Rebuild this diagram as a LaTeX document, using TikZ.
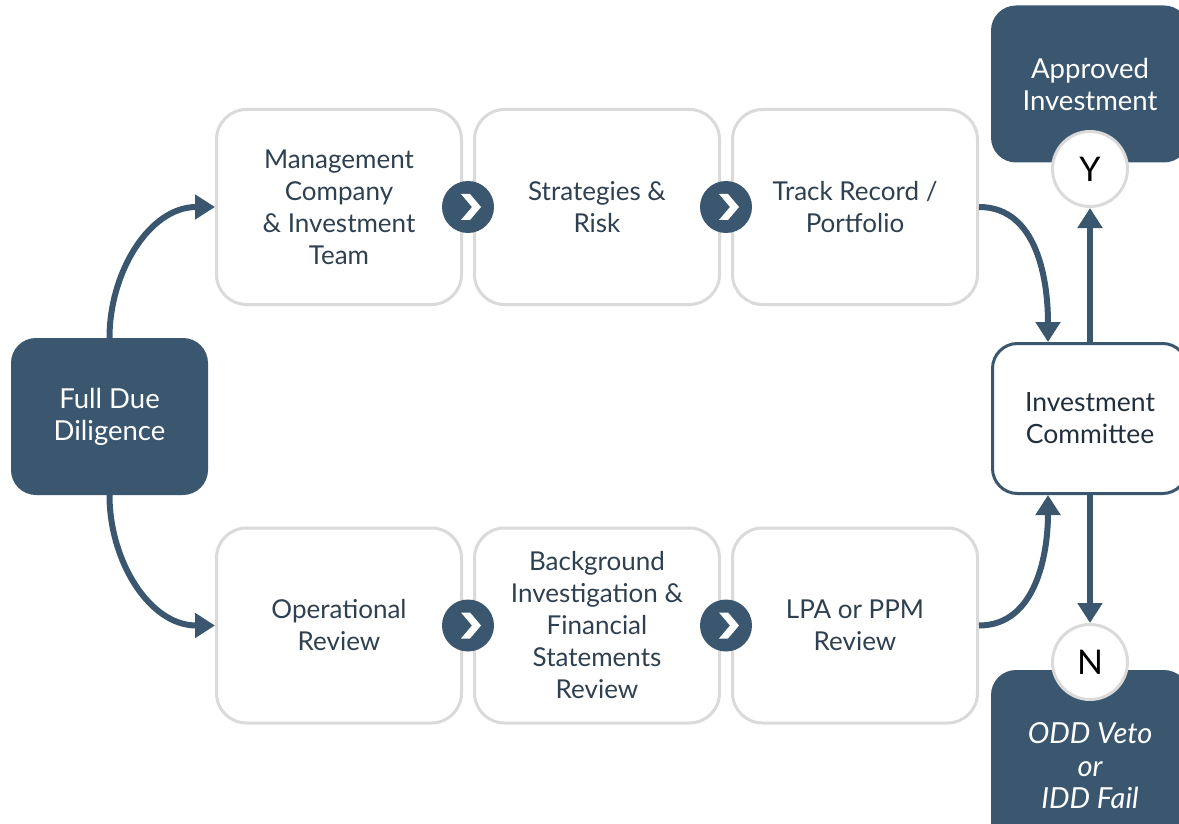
\documentclass[tikz,border=0pt]{standalone}
\usepackage{fontspec}
\setmainfont{Lato}
\usetikzlibrary{arrows.meta,positioning,calc}
\definecolor{slate}{HTML}{3B5770}
\definecolor{lightgrey}{HTML}{DADADA}
\definecolor{boxtext}{HTML}{2F4050}
\definecolor{ictext}{HTML}{22303E}
\tikzset{
  stepbox/.style={draw=lightgrey,line width=3pt,fill=white,rounded corners=30pt,
    minimum width=245pt,minimum height=195pt,align=center,text=boxtext,
    font=\fontsize{26}{32}\selectfont},
  darkbox/.style={fill=slate,rounded corners=25pt,minimum width=197pt,
    minimum height=157pt,align=center,text=white,
    font=\fontsize{27.5}{32}\selectfont},
  outcome/.style={draw=slate,line width=3pt,fill=white,rounded corners=25pt,
    minimum width=195pt,minimum height=150pt,align=center,text=ictext,
    font=\fontsize{26.5}{32}\selectfont},
  answer/.style={circle,draw=lightgrey,line width=3pt,fill=white,
    minimum size=75pt,inner sep=0pt,text=black,font=\fontsize{34}{40}\selectfont},
  chevron/.style={circle,fill=slate,minimum size=52pt,inner sep=0pt,
    path picture={\fill[white] (path picture bounding box.center)
      ++(-7pt,13pt) -- ++(9pt,0pt) -- ++(11pt,-13pt) -- ++(-11pt,-13pt)
      -- ++(-9pt,0pt) -- ++(11pt,13pt) -- cycle;}},
  flow/.style={draw=slate,line width=6pt,-{Triangle[length=20pt,width=24pt]}}
}
\begin{document}
\begin{tikzpicture}[x=1pt,y=-1pt]
  \useasboundingbox (0,0) rectangle (1179,824);
  \clip (0,0) rectangle (1179,824);
  \node[darkbox] (fdd) at (109.5,416.5) {Full Due\\Diligence};
  % upper row
  \node[stepbox] (mgmt) at (339,207) {Management\\Company\\\& Investment\\Team};
  \node[stepbox,right=10pt of mgmt] (strat) {Strategies \&\\Risk};
  \node[stepbox,right=10pt of strat] (track) {Track Record /\\Portfolio};
  % lower row
  \node[stepbox] (oper) at (339,625.5) {Operational\\Review};
  \node[stepbox,right=10pt of oper] (backg) {Background\\Investigation \&\\Financial\\Statements\\Review};
  \node[stepbox,right=10pt of backg] (lpa) {LPA or PPM\\Review};
  \node[chevron] (c1) at ($(mgmt.east)!.5!(strat.west)$) {};
  \node[chevron] (c2) at ($(strat.east)!.5!(track.west)$) {};
  \node[chevron] (c3) at ($(oper.east)!.5!(backg.west)$) {};
  \node[chevron] (c4) at ($(backg.east)!.5!(lpa.west)$) {};
  % decision
  \node[outcome] (ic) at (1090,418.5) {Investment\\Committee};
  \node[darkbox,minimum width=198pt] (appr) at (1090,84) {Approved\\Investment};
  \node[answer] (yes) at (1090,169) {Y};
  \node[darkbox,minimum width=198pt,minimum height=192pt,
    font=\fontsize{29}{32.5}\selectfont\itshape] (veto) at (1090,766) {ODD Veto\\or\\IDD Fail};
  \node[answer] (no) at (1090,662) {N};
  \draw[flow] (fdd.north) to[out=90,in=180] (mgmt.west);
  \draw[flow] (fdd.south) to[out=-90,in=180] (oper.west);
  \draw[flow] (track.east) to[out=0,in=90] ([xshift=-42pt]ic.north);
  \draw[flow] (lpa.east) to[out=0,in=-90] ([xshift=-42pt]ic.south);
  \draw[flow] (ic.north) -- (yes.south);
  \draw[flow] (ic.south) -- (no.north);
\end{tikzpicture}
\end{document}
